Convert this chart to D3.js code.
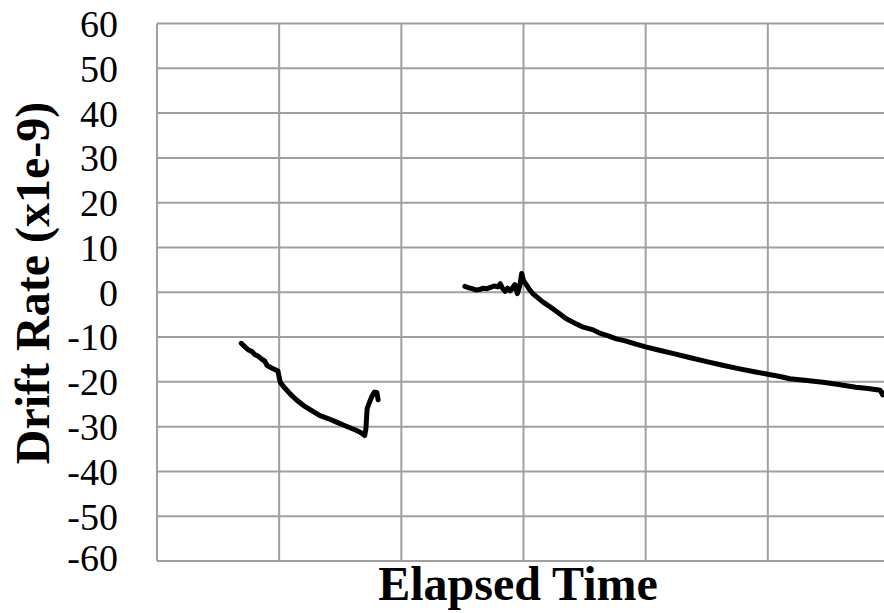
<!DOCTYPE html>
<html>
<head>
<meta charset="utf-8">
<script src="https://cdn.jsdelivr.net/npm/d3@7"></script>
<style>
  body { margin: 0; background: #fff; }
  svg { display: block; }
  text { font-family: "Liberation Serif", "Times New Roman", serif; fill: #000; }
</style>
</head>
<body>
<svg id="chart" width="884" height="613"></svg>
<script>
// values (x in grid units, y in 1e-9)
var yTicks = [60, 50, 40, 30, 20, 10, 0, -10, -20, -30, -40, -50, -60];
var xGrid = [0, 1, 2, 3, 4, 5, 6];

var seg1 = [
  [0.69,-11.4],[0.72,-12.2],[0.75,-12.9],[0.78,-13.3],[0.80,-13.9],[0.83,-14.3],
  [0.86,-15.0],[0.88,-15.3],[0.90,-16.3],[0.93,-16.8],[0.96,-17.2],[0.99,-17.6],
  [1.00,-19.0],[1.01,-20.2],[1.05,-21.5],[1.09,-22.7],[1.14,-24.0],[1.20,-25.3],
  [1.27,-26.5],[1.33,-27.5],[1.40,-28.2],[1.47,-29.0],[1.54,-29.8],[1.61,-30.6],
  [1.66,-31.2],[1.70,-32.0],[1.71,-30.5],[1.72,-26.0],[1.74,-24.5],[1.76,-23.2],
  [1.78,-22.3],[1.80,-22.4],[1.81,-24.0]
];

var seg2 = [
  [2.52,1.3],[2.55,1.0],[2.58,0.8],[2.61,0.5],[2.64,0.6],[2.67,0.9],[2.70,0.8],
  [2.73,1.1],[2.76,1.4],[2.79,1.2],[2.81,1.9],[2.83,0.8],[2.85,0.2],[2.87,0.9],
  [2.89,0.3],[2.91,1.0],[2.93,1.7],[2.95,-0.3],[2.97,1.5],[2.985,4.2],[3.00,2.6],
  [3.02,1.8],[3.05,0.6],[3.08,-0.4],[3.12,-1.3],[3.16,-2.2],[3.22,-3.3],[3.29,-4.7],
  [3.35,-5.9],[3.42,-6.9],[3.49,-7.8],[3.57,-8.4],[3.63,-9.2],[3.70,-9.8],[3.76,-10.4],
  [3.84,-10.9],[3.92,-11.6],[4.00,-12.2],[4.12,-13.0],[4.23,-13.7],[4.35,-14.5],
  [4.50,-15.5],[4.63,-16.3],[4.77,-17.1],[4.90,-17.8],[5.00,-18.3],[5.10,-18.8],
  [5.18,-19.3],[5.32,-19.7],[5.45,-20.1],[5.58,-20.6],[5.72,-21.2],[5.82,-21.5],
  [5.92,-21.9],[5.94,-22.9],[5.95,-22.5]
];

var svg = d3.select("#chart");

var x = d3.scaleLinear().domain([0, 6]).range([157, 890]);
var y = d3.scaleLinear().domain([-60, 60]).range([561, 23.5]);

// gridlines
svg.append("g")
  .selectAll("line.h")
  .data(yTicks)
  .enter().append("line")
  .attr("x1", x(0)).attr("x2", x(6))
  .attr("y1", function (d) { return y(d); })
  .attr("y2", function (d) { return y(d); })
  .style("stroke", "#a0a0a0")
  .attr("stroke-width", 2);

svg.append("g")
  .selectAll("line.v")
  .data(xGrid)
  .enter().append("line")
  .attr("x1", function (d) { return x(d); })
  .attr("x2", function (d) { return x(d); })
  .attr("y1", y(60)).attr("y2", y(-60))
  .style("stroke", "#a0a0a0")
  .attr("stroke-width", 2);

// y axis labels (plain hyphen, bottom one lifted a little like the original)
var yAxis = d3.axisLeft(y)
  .tickValues(yTicks)
  .tickSize(0)
  .tickPadding(39)
  .tickFormat(function (d) { return String(d); });
svg.append("g")
  .attr("transform", "translate(" + x(0) + ",0)")
  .call(yAxis)
  .call(function (g) { g.select(".domain").remove(); })
  .selectAll("text")
  .style("font-family", "'Liberation Serif', serif")
  .style("font-size", "38px")
  .attr("dy", function (d) { return d == -60 ? "0.25em" : "0.34em"; });

// series
var line = d3.line()
  .x(function (d) { return x(d[0]); })
  .y(function (d) { return y(d[1]); });

svg.append("g")
  .selectAll("path")
  .data([seg1, seg2])
  .enter().append("path")
  .attr("d", line)
  .style("fill", "none")
  .style("stroke", "#000")
  .attr("stroke-width", 5)
  .attr("stroke-linejoin", "round")
  .attr("stroke-linecap", "round");

// titles
svg.append("text")
  .attr("x", 518)
  .attr("y", 600)
  .attr("text-anchor", "middle")
  .style("font-size", "48px")
  .style("font-weight", "bold")
  .text("Elapsed Time");

svg.append("text")
  .attr("transform", "translate(49,283) rotate(-90)")
  .attr("text-anchor", "middle")
  .style("font-size", "48px")
  .style("font-weight", "bold")
  .text("Drift Rate (x1e-9)");
</script>
</body>
</html>
